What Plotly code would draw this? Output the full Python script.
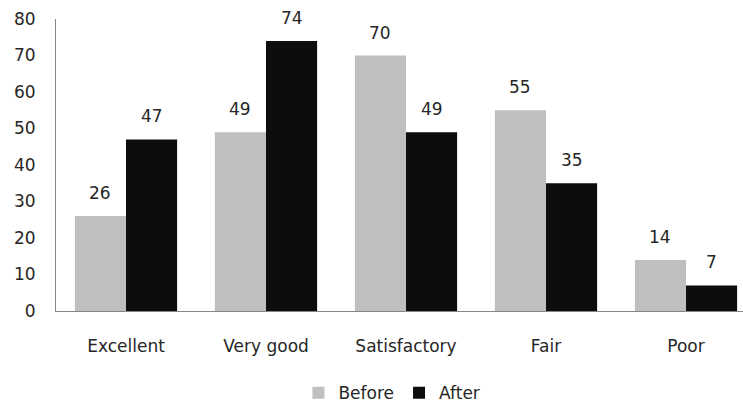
import plotly.graph_objects as go

categories = ["Excellent", "Very good", "Satisfactory", "Fair", "Poor"]
before = [26, 49, 70, 55, 14]
after = [47, 74, 49, 35, 7]
y_ticks = [0, 10, 20, 30, 40, 50, 60, 70, 80]

font = dict(family="DejaVu Sans", size=17, color="#262626")

fig = go.Figure()
fig.add_trace(go.Bar(x=categories, y=before, name="Before", marker_color="#bfbfbf",
                     marker_line_width=0))
fig.add_trace(go.Bar(x=categories, y=after, name="After", marker_color="#0d0d0d",
                     marker_line_width=0))

half = 140 * (1 - 0.27) / 4
for series, shift in ((before, -half), (after, half)):
    for c, v in zip(categories, series):
        fig.add_annotation(x=c, y=v, text=str(v), showarrow=False, xshift=shift,
                           yshift=23, yanchor="middle", font=font)

fig.update_layout(
    width=743, height=407,
    margin=dict(l=56, r=0, t=19, b=96),
    paper_bgcolor="white", plot_bgcolor="white",
    barmode="group", bargap=0.27, bargroupgap=0,
    font=font,
    showlegend=True,
    legend=dict(orientation="h", x=0.489, xanchor="center", yref="container", y=0.034,
                yanchor="middle", font=font, itemwidth=30, traceorder="normal"),
    xaxis=dict(range=[-0.5, 4.407], showline=True, linecolor="#868686", linewidth=1,
               ticks="", showgrid=False, tickfont=font, ticklabelstandoff=20,
               automargin=False),
    yaxis=dict(range=[0, 80], tickvals=y_ticks, showline=True, linecolor="#868686",
               linewidth=1, ticks="", showgrid=False, tickfont=font, zeroline=False,
               ticklabelstandoff=16, automargin=False),
)

fig.write_html("out.html")
